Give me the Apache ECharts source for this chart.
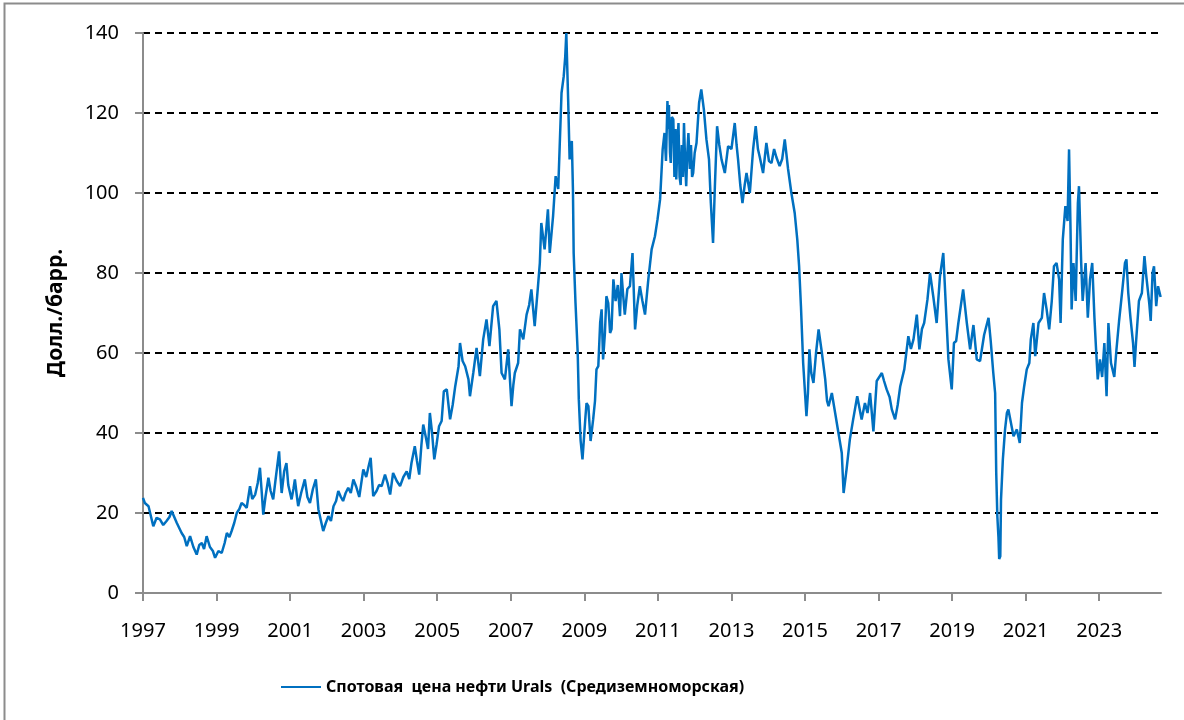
<!DOCTYPE html>
<html>
<head>
<meta charset="utf-8">
<script src="https://cdn.jsdelivr.net/npm/echarts@6/dist/echarts.min.js"></script>
<style>
  html, body { margin: 0; padding: 0; background: #fff; }
  #chart { width: 1184px; height: 720px; }
</style>
</head>
<body>
<div id="chart"></div>
<script>
// decimal years (x) and Urals spot price, $/bbl (y)
var years = [
  1997.00, 1997.05, 1997.15, 1997.28, 1997.37, 1997.46, 1997.55, 1997.64, 1997.72, 1997.78, 1997.85, 1997.92,
  1998.05, 1998.12, 1998.19, 1998.28, 1998.37, 1998.46, 1998.53, 1998.60, 1998.66, 1998.73, 1998.82, 1998.90, 1998.96,
  1999.05, 1999.14, 1999.22, 1999.28, 1999.35, 1999.41, 1999.48, 1999.55, 1999.62, 1999.68, 1999.75, 1999.82, 1999.91, 1999.97,
  2000.05, 2000.12, 2000.18, 2000.23, 2000.27, 2000.33, 2000.41, 2000.47, 2000.54, 2000.60, 2000.65, 2000.70, 2000.74, 2000.77, 2000.84, 2000.90, 2000.95,
  2001.04, 2001.09, 2001.13, 2001.18, 2001.22, 2001.30, 2001.40, 2001.47, 2001.54, 2001.62, 2001.70, 2001.77, 2001.84, 2001.90, 2001.97,
  2002.04, 2002.11, 2002.18, 2002.25, 2002.31, 2002.38, 2002.44, 2002.51, 2002.58, 2002.65, 2002.72, 2002.80, 2002.88, 2002.99,
  2003.07, 2003.13, 2003.19, 2003.26, 2003.35, 2003.42, 2003.49, 2003.58, 2003.65, 2003.72, 2003.80, 2003.90, 2003.99,
  2004.08, 2004.17, 2004.24, 2004.30, 2004.39, 2004.45, 2004.51, 2004.57, 2004.62, 2004.70, 2004.75, 2004.80, 2004.86, 2004.92, 2004.98,
  2005.05, 2005.12, 2005.18, 2005.26, 2005.35, 2005.42, 2005.49, 2005.58, 2005.62, 2005.69, 2005.76, 2005.85, 2005.89, 2005.98,
  2006.07, 2006.16, 2006.25, 2006.34, 2006.42, 2006.52, 2006.61, 2006.69, 2006.75, 2006.84, 2006.93,
  2007.02, 2007.07, 2007.11, 2007.20, 2007.25, 2007.34, 2007.43, 2007.50, 2007.56, 2007.65, 2007.74, 2007.79, 2007.83, 2007.92,
  2008.01, 2008.06, 2008.15, 2008.22, 2008.29, 2008.33, 2008.38, 2008.44, 2008.48, 2008.51, 2008.56, 2008.60, 2008.66, 2008.69, 2008.71, 2008.76, 2008.82, 2008.85, 2008.90, 2008.95, 2008.98,
  2009.03, 2009.06, 2009.11, 2009.17, 2009.24, 2009.29, 2009.33, 2009.38, 2009.43, 2009.47, 2009.51, 2009.56, 2009.60, 2009.65, 2009.70, 2009.74, 2009.79, 2009.85, 2009.91, 2009.97,
  2010.01, 2010.06, 2010.10, 2010.17, 2010.24, 2010.31, 2010.38, 2010.44, 2010.51, 2010.58, 2010.65, 2010.74, 2010.83, 2010.92, 2010.99,
  2011.06, 2011.13, 2011.18, 2011.22, 2011.26, 2011.28, 2011.30, 2011.33, 2011.35, 2011.38, 2011.42, 2011.45, 2011.48, 2011.50, 2011.53,
  2011.56, 2011.59, 2011.62, 2011.65, 2011.68, 2011.71, 2011.74, 2011.77, 2011.80, 2011.83, 2011.87, 2011.90, 2011.93, 2011.96, 2012.00,
  2012.05, 2012.12, 2012.18, 2012.25, 2012.32, 2012.39, 2012.44, 2012.50, 2012.55, 2012.61, 2012.67, 2012.73, 2012.82, 2012.91,
  2013.00, 2013.09, 2013.14, 2013.18, 2013.24, 2013.30, 2013.36, 2013.41, 2013.50, 2013.59, 2013.66, 2013.72, 2013.77, 2013.86, 2013.95,
  2014.02, 2014.09, 2014.16, 2014.22, 2014.31, 2014.38, 2014.45, 2014.54, 2014.63, 2014.72, 2014.79, 2014.84, 2014.89, 2014.95,
  2015.04, 2015.08, 2015.12, 2015.17, 2015.23, 2015.30, 2015.37, 2015.46, 2015.55, 2015.60, 2015.64, 2015.73, 2015.82, 2015.91,
  2016.00, 2016.05, 2016.13, 2016.22, 2016.31, 2016.42, 2016.54, 2016.63, 2016.70, 2016.77, 2016.86, 2016.95,
  2017.09, 2017.15, 2017.22, 2017.30, 2017.36, 2017.45, 2017.52, 2017.59, 2017.70, 2017.81, 2017.88, 2017.95,
  2018.04, 2018.11, 2018.18, 2018.24, 2018.33, 2018.40, 2018.49, 2018.58, 2018.67, 2018.76, 2018.83, 2018.90, 2018.99,
  2019.05, 2019.11, 2019.17, 2019.30, 2019.40, 2019.49, 2019.58, 2019.67, 2019.76, 2019.87, 2019.99,
  2020.05, 2020.12, 2020.17, 2020.20, 2020.23, 2020.26, 2020.28, 2020.31, 2020.33, 2020.38, 2020.42, 2020.44, 2020.49, 2020.53, 2020.58, 2020.67, 2020.76, 2020.84, 2020.90, 2020.96,
  2021.03, 2021.10, 2021.14, 2021.21, 2021.26, 2021.35, 2021.44, 2021.50, 2021.57, 2021.64, 2021.71, 2021.77, 2021.84, 2021.91, 2021.95,
  2022.01, 2022.08, 2022.14, 2022.18, 2022.22, 2022.25, 2022.30, 2022.36, 2022.42, 2022.45, 2022.51, 2022.55, 2022.63, 2022.69, 2022.75, 2022.81, 2022.87, 2022.91, 2022.96,
  2023.02, 2023.08, 2023.14, 2023.20, 2023.25, 2023.32, 2023.41, 2023.47, 2023.54, 2023.63, 2023.70, 2023.74, 2023.79, 2023.85, 2023.92, 2023.96,
  2024.00, 2024.08, 2024.16, 2024.23, 2024.28, 2024.36, 2024.40, 2024.45, 2024.49, 2024.55, 2024.60, 2024.67
]
var prices = [
  23.8, 22.5, 21.7, 16.7, 18.8, 18.4, 17.0, 18.0, 19.0, 20.5, 19.0, 17.5,
  15.0, 14.0, 11.7, 14.2, 11.5, 9.6, 12.0, 12.5, 11.0, 14.2, 11.5, 10.5, 8.8,
  10.5, 10.0, 12.5, 15.0, 14.0, 15.5, 17.5, 20.0, 21.0, 22.5, 22.0, 21.3, 26.7, 23.5,
  24.6, 27.5, 31.3, 25.0, 19.6, 24.0, 28.8, 25.5, 23.4, 28.0, 31.7, 35.4, 29.0, 25.0, 30.5, 32.5, 27.0,
  23.4, 26.0, 28.4, 24.5, 21.7, 25.0, 28.4, 24.0, 22.5, 26.0, 28.4, 20.9, 18.0, 15.5, 17.5,
  19.2, 18.0, 21.7, 23.0, 25.5, 24.0, 23.0, 25.0, 26.3, 25.0, 28.4, 26.5, 24.0, 30.9,
  29.0, 31.5, 33.8, 24.2, 25.5, 27.0, 26.7, 29.6, 27.5, 24.6, 30.0, 28.0, 26.7,
  29.0, 30.4, 28.5, 32.5, 36.7, 33.0, 29.6, 37.0, 42.1, 38.5, 36.0, 45.0, 40.0, 33.4, 37.0,
  41.7, 43.0, 50.4, 50.9, 43.4, 47.0, 51.7, 56.7, 62.5, 58.0, 56.7, 53.4, 49.2, 55.0,
  61.3, 54.2, 63.4, 68.4, 61.7, 71.7, 73.0, 65.9, 55.0, 53.4, 60.9,
  46.7, 52.0, 55.0, 57.5, 65.9, 63.4, 69.6, 72.0, 75.9, 66.7, 76.7, 82.5, 92.5, 85.9,
  95.9, 85.0, 94.2, 104.2, 101.0, 111.7, 125.0, 129.2, 134.0, 140.0, 123.4, 108.4, 113.0, 101.0, 85.0, 72.5, 60.0, 48.4, 38.0, 33.4, 33.0,
  44.0, 47.5, 46.7, 38.0, 43.4, 48.0, 55.9, 56.7, 67.5, 70.9, 58.4, 65.0, 74.2, 72.5, 65.0, 66.0, 78.4, 73.0, 77.0, 69.2,
  80.0, 74.0, 69.6, 76.0, 76.7, 85.0, 65.9, 72.0, 76.7, 73.0, 69.6, 78.4, 85.9, 89.2, 93.4,
  98.4, 110.9, 115.0, 108.0, 123.0, 116.0, 122.0, 110.0, 107.5, 119.0, 118.4, 104.0, 116.0, 103.4, 112.0,
  117.5, 104.0, 102.0, 112.0, 104.0, 117.5, 108.0, 101.7, 110.0, 115.0, 106.0, 112.0, 104.0, 105.0, 110.0,
  112.5, 122.5, 125.9, 120.9, 113.4, 108.4, 97.5, 87.5, 101.7, 116.7, 112.0, 108.4, 105.0, 111.7,
  111.0, 117.5, 112.0, 108.4, 102.0, 97.5, 102.0, 105.0, 100.0, 111.0, 116.7, 111.0, 109.0, 105.0, 112.5,
  108.0, 107.5, 111.0, 109.0, 106.7, 108.5, 113.4, 106.0, 100.0, 95.0, 88.4, 81.7, 71.7, 57.5,
  44.2, 50.0, 60.9, 55.0, 52.5, 60.0, 65.9, 60.0, 53.4, 48.0, 46.7, 50.0, 45.0, 40.0,
  35.0, 25.0, 30.9, 38.4, 43.4, 49.2, 43.4, 47.5, 45.0, 50.0, 40.4, 53.0,
  55.0, 53.0, 50.9, 49.0, 45.9, 43.4, 47.0, 51.7, 55.9, 64.2, 61.0, 63.4,
  69.6, 60.9, 66.0, 67.5, 73.4, 80.0, 74.0, 67.5, 79.2, 85.0, 71.7, 58.4, 50.9,
  62.5, 63.0, 67.5, 75.9, 67.5, 60.9, 67.0, 58.4, 58.0, 64.5, 68.8,
  63.0, 55.0, 50.0, 30.0, 19.2, 14.0, 8.5, 9.2, 23.4, 33.4, 38.4, 40.9, 45.0, 45.9, 45.9, 39.2, 40.9, 37.5, 47.5, 51.7,
  55.9, 57.5, 63.4, 67.5, 59.2, 67.5, 68.8, 75.0, 70.9, 65.9, 73.0, 81.7, 82.5, 78.4, 67.5,
  88.4, 96.7, 93.0, 110.9, 90.9, 70.9, 82.5, 73.0, 97.5, 101.7, 82.5, 73.0, 82.5, 68.8, 78.4, 82.5, 68.8, 61.7, 53.4,
  58.4, 54.0, 62.5, 49.2, 67.5, 57.5, 54.0, 61.0, 68.0, 75.9, 82.5, 83.4, 75.0, 68.8, 62.5, 56.5,
  62.5, 73.0, 75.0, 84.2, 79.2, 72.5, 68.0, 80.0, 81.7, 71.7, 76.7, 74.0
]
var yearTicks = [1997, 1999, 2001, 2003, 2005, 2007, 2009, 2011, 2013, 2015, 2017, 2019, 2021, 2023]
var seriesName = 'Спотовая  цена нефти Urals  (Средиземноморская)'
var axisName = 'Долл./барр.'

var chart = echarts.init(document.getElementById('chart'))
var axisGray = '#8c8c8c'
var font = 'Noto Sans, sans-serif'

chart.setOption({
  animation: false,
  backgroundColor: '#fff',
  textStyle: { fontFamily: font },
  graphic: [{
    // outer chart frame, runs off the right and bottom edges
    type: 'rect',
    shape: { x: 4.5, y: 3.5, width: 1300, height: 800 },
    style: { fill: 'none', stroke: axisGray, lineWidth: 2 },
    z: -1
  }],
  grid: {
    left: 143,
    right: 23,
    top: 33,
    bottom: 127
  },
  legend: {
    left: 276,
    top: 674,
    icon: 'rect',
    itemWidth: 40,
    itemHeight: 2,
    itemGap: 4,
    textStyle: { fontSize: 16, fontWeight: 'bold', color: '#000', fontFamily: font },
    data: [seriesName]
  },
  xAxis: {
    type: 'value',
    min: 1997,
    max: 2024.68,
    interval: 2,
    axisLine: { lineStyle: { color: axisGray, width: 2 } },
    axisTick: { show: true, length: 8, lineStyle: { color: axisGray, width: 2 }, customValues: yearTicks },
    axisLabel: {
      fontSize: 20,
      color: '#000',
      margin: 28,
      customValues: yearTicks,
      formatter: function (v) { return String(v) }
    },
    splitLine: { show: false }
  },
  yAxis: {
    type: 'value',
    min: 0,
    max: 140,
    interval: 20,
    name: axisName,
    nameLocation: 'middle',
    nameGap: 76,
    nameTextStyle: { fontSize: 21, fontWeight: 'bold', color: '#000', fontFamily: font },
    axisLine: { show: true, lineStyle: { color: axisGray, width: 2 } },
    axisTick: { show: true, length: 8, lineStyle: { color: axisGray, width: 2 } },
    axisLabel: { fontSize: 20, color: '#000', margin: 24 },
    splitLine: {
      show: true,
      showMinLine: false,
      lineStyle: { color: '#000', width: 2, type: [7, 5] }
    }
  },
  series: [{
    name: seriesName,
    type: 'line',
    symbol: 'none',
    data: years.map(function (y, i) { return [y, prices[i]] }),
    lineStyle: { color: '#0070c0', width: 2.5 },
    itemStyle: { color: '#0070c0' }
  }]
})
</script>
</body>
</html>
